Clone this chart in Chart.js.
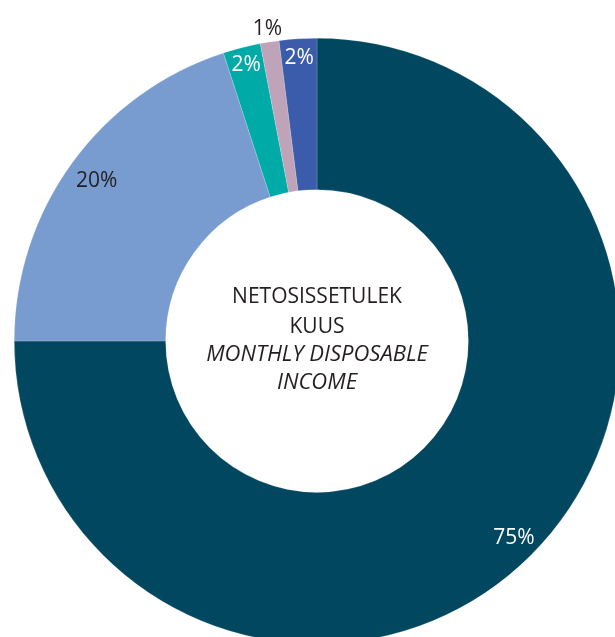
<!DOCTYPE html>
<html>
<head>
<meta charset="utf-8">
<script src="https://cdn.jsdelivr.net/npm/chart.js@4/dist/chart.umd.min.js"></script>
<style>
    html, body { margin: 0; padding: 0; background: #fff; overflow: hidden; }
    #wrap { position: relative; width: 615px; height: 637px; overflow: hidden; }
    #incomeChart { position: absolute; left: 0; top: 0; }
</style>
</head>
<body>
<div id="wrap">
    <canvas id="incomeChart" width="640" height="680"></canvas>
</div>
<script>
// Chart data
const categories = ['A', 'B', 'C', 'D', 'E'];
const shares = [75, 20, 2, 1, 2];
const shareLabels = ['75%', '20%', '2%', '1%', '2%'];
const centerLines = ['NETOSISSETULEK', 'KUUS', 'MONTHLY DISPOSABLE', 'INCOME'];

const sliceColors = ['#01475F', '#789CD0', '#00ABA7', '#BFA3B8', '#3A5CAA'];

// Percent labels placed along each slice
const sliceLabels = {
    id: 'sliceLabels',
    afterDatasetsDraw(chart, args, opts) {
        const ctx = chart.ctx;
        const arcs = chart.getDatasetMeta(0).data;
        ctx.save();
        ctx.font = '21px "Open Sans", sans-serif';
        ctx.textAlign = 'center';
        ctx.textBaseline = 'middle';
        arcs.forEach((arc, i) => {
            const mid = (arc.startAngle + arc.endAngle) / 2;
            const r = arc.outerRadius * opts.radius[i];
            ctx.fillStyle = opts.colors[i];
            ctx.fillText(shareLabels[i], arc.x + Math.cos(mid) * r, arc.y + Math.sin(mid) * r);
        });
        ctx.restore();
    }
};

// Title text in the hole
const centerText = {
    id: 'centerText',
    afterDraw(chart) {
        const ctx = chart.ctx;
        const arc = chart.getDatasetMeta(0).data[0];
        ctx.save();
        ctx.fillStyle = '#231F20';
        ctx.textAlign = 'center';
        ctx.textBaseline = 'middle';
        const offsets = [-44, -14, 14, 42];
        centerLines.forEach((line, i) => {
            ctx.font = i >= 2 ? 'italic 22px "Open Sans", sans-serif' : '21px "Open Sans", sans-serif';
            ctx.fillText(line, arc.x, arc.y + offsets[i]);
        });
        ctx.restore();
    }
};

const ctx = document.getElementById('incomeChart').getContext('2d');
new Chart(ctx, {
    type: 'doughnut',
    data: {
        labels: categories,
        datasets: [{
            data: shares,
            backgroundColor: sliceColors,
            borderColor: 'rgba(255,255,255,0.35)',
            borderWidth: 0.5
        }]
    },
    options: {
        responsive: false,
        animation: false,
        cutout: '50%',
        layout: {
            padding: { left: 14, top: 38, right: 20, bottom: 36 }
        },
        plugins: {
            legend: { display: false },
            tooltip: { enabled: false },
            sliceLabels: {
                radius: [0.92, 0.90, 0.94, 1.045, 0.935],
                colors: ['#FFFFFF', '#231F20', '#FFFFFF', '#231F20', '#FFFFFF']
            }
        }
    },
    plugins: [sliceLabels, centerText]
});
</script>
</body>
</html>
